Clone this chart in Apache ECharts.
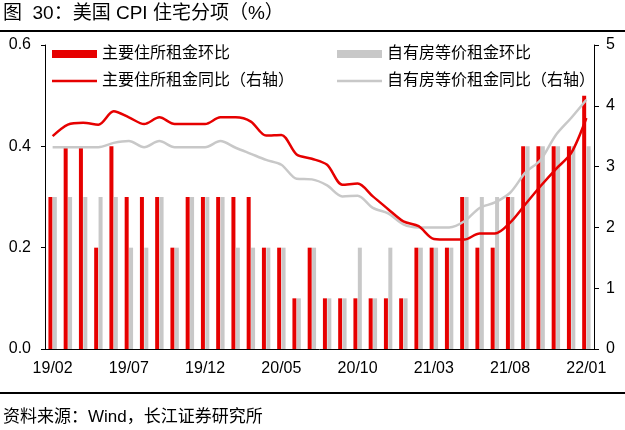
<!DOCTYPE html>
<html><head><meta charset="utf-8">
<script src="https://cdn.jsdelivr.net/npm/echarts@6/dist/echarts.min.js"></script>
<style>html,body{margin:0;padding:0;background:#fff}#c{width:625px;height:430px}</style>
</head><body><div id="c"></div>
<script>
const categories = ['19/02','19/03','19/04','19/05','19/06','19/07','19/08','19/09','19/10','19/11','19/12','20/01',
  '20/02','20/03','20/04','20/05','20/06','20/07','20/08','20/09','20/10','20/11','20/12','21/01',
  '21/02','21/03','21/04','21/05','21/06','21/07','21/08','21/09','21/10','21/11','21/12','22/01'];
const rentMoM = [0.3,0.4,0.4,0.2,0.4,0.3,0.3,0.3,0.2,0.3,0.3,0.3,
  0.3,0.3,0.2,0.2,0.1,0.2,0.1,0.1,0.1,0.1,0.1,0.1,
  0.2,0.2,0.2,0.3,0.2,0.2,0.3,0.4,0.4,0.4,0.4,0.5];
const oerMoM = [0.3,0.3,0.3,0.3,0.3,0.2,0.2,0.3,0.2,0.3,0.3,0.3,
  0.2,0.2,0.2,0.2,0.1,0.2,0.1,0.1,0.2,0.1,0.2,0.1,
  0.2,0.2,0.2,0.3,0.3,0.3,0.3,0.4,0.4,0.4,0.4,0.4];
const rentYoY = [3.50,3.69,3.72,3.69,3.91,3.81,3.70,3.81,3.70,3.70,3.70,3.81,
  3.81,3.74,3.51,3.52,3.20,3.13,3.03,2.70,2.72,2.51,2.30,2.10,
  2.02,1.81,1.80,1.80,1.90,1.90,2.08,2.38,2.68,2.96,3.22,3.80];
const oerYoY = [3.32,3.32,3.32,3.32,3.39,3.42,3.32,3.42,3.32,3.32,3.32,3.42,
  3.31,3.21,3.11,3.03,2.80,2.79,2.69,2.51,2.52,2.32,2.23,2.05,
  2.00,2.00,2.00,2.10,2.32,2.41,2.57,2.90,3.11,3.52,3.80,4.10];
const leftTicks = {min:0, max:0.6, interval:0.2};
const rightTicks = {min:0, max:5, interval:1};

const RED = '#E60000', GREY = '#C8C8C8';
const FONT = "'Liberation Sans', Arial, 'Noto Sans CJK SC', sans-serif";
const LINE_ICON = 'path://M0,0H45V0.01H0Z M0,2.8H45V5.2H0Z M0,7.99H45V8H0Z';
const chart = echarts.init(document.getElementById('c'), null, {renderer:'canvas'});
chart.setOption({
  animation:false,
  textStyle:{fontFamily:FONT},
  grid:{left:45, right:31, top:45, bottom:81},
  graphic:[
    {type:'text', left:3, top:4, style:{text:'图  30：美国 CPI 住宅分项（%）', font:"19px "+FONT, fill:'#000'}},
    {type:'rect', shape:{x:0,y:30,width:625,height:2}, style:{fill:'#000'}},
    {type:'rect', shape:{x:0,y:392,width:625,height:2}, style:{fill:'#000'}},
    {type:'text', left:3, top:409, style:{text:'资料来源：Wind，长江证券研究所', font:"17px "+FONT, fill:'#000'}}
  ],
  legend:[
    {orient:'vertical', left:47, top:40, itemWidth:45, itemHeight:8, itemGap:9,
     textStyle:{fontSize:16, color:'#000', fontFamily:FONT, lineHeight:18},
     data:[{name:'主要住所租金环比', icon:'rect'},
           {name:'主要住所租金同比（右轴）', icon:LINE_ICON, itemStyle:{color:RED, borderWidth:0}}]},
    {orient:'vertical', left:332, top:40, itemWidth:45, itemHeight:8, itemGap:9,
     textStyle:{fontSize:16, color:'#000', fontFamily:FONT, lineHeight:18},
     data:[{name:'自有房等价租金环比', icon:'rect'},
           {name:'自有房等价租金同比（右轴）', icon:LINE_ICON, itemStyle:{color:GREY, borderWidth:0}}]}
  ],
  xAxis:{type:'category', data:categories, boundaryGap:true,
    axisLine:{lineStyle:{color:'#000', width:1}},
    axisTick:{interval:4, inside:true, length:5, lineStyle:{color:'#000'}},
    axisLabel:{interval:4, fontSize:16, color:'#000', margin:12, fontFamily:FONT}},
  yAxis:[
    {type:'value', min:leftTicks.min, max:leftTicks.max, interval:leftTicks.interval,
     splitLine:{show:false},
     axisLine:{show:true, lineStyle:{color:'#000'}},
     axisTick:{show:true, length:4, lineStyle:{color:'#000'}},
     axisLabel:{fontSize:16, color:'#000', margin:14, formatter:v=>v.toFixed(1), fontFamily:FONT}},
    {type:'value', min:rightTicks.min, max:rightTicks.max, interval:rightTicks.interval, position:'right',
     splitLine:{show:false},
     axisLine:{show:true, lineStyle:{color:'#000'}},
     axisTick:{show:true, length:5, lineStyle:{color:'#000'}},
     axisLabel:{fontSize:16, color:'#000', margin:12, fontFamily:FONT}}
  ],
  series:[
    {name:'主要住所租金环比', type:'bar', data:rentMoM, barWidth:4, barGap:'10%', itemStyle:{color:RED}},
    {name:'自有房等价租金环比', type:'bar', data:oerMoM, barWidth:4, barGap:'10%', itemStyle:{color:GREY}},
    {name:'主要住所租金同比（右轴）', type:'line', yAxisIndex:1, data:rentYoY, smooth:0.3, symbol:'none',
     lineStyle:{color:RED, width:2.5}, itemStyle:{color:RED}, z:5},
    {name:'自有房等价租金同比（右轴）', type:'line', yAxisIndex:1, data:oerYoY, smooth:0.3, symbol:'none',
     lineStyle:{color:GREY, width:2.5}, itemStyle:{color:GREY}, z:4}
  ]
});
</script></body></html>
